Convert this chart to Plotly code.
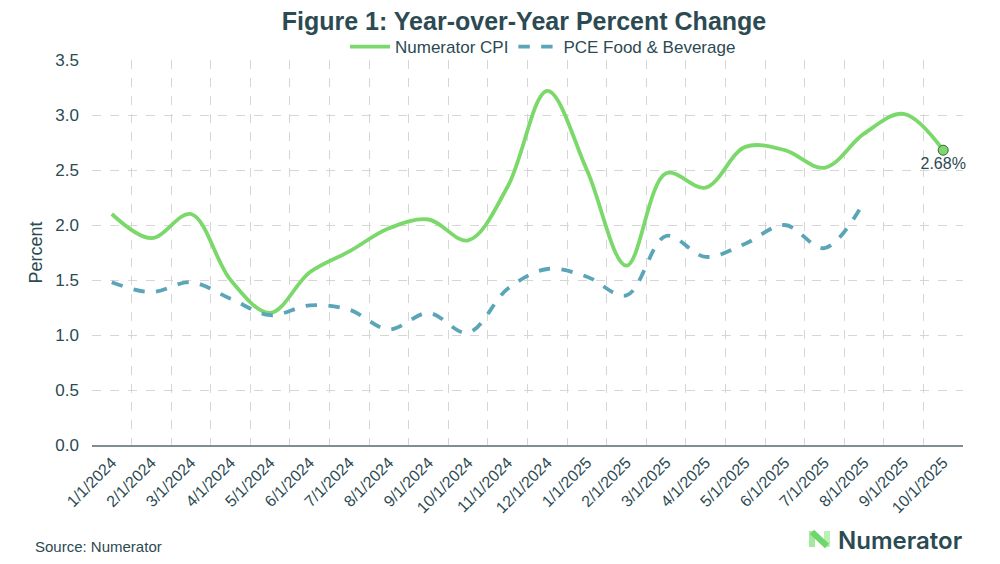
import plotly.graph_objects as go

# Monthly categories
dates = ["1/1/2024", "2/1/2024", "3/1/2024", "4/1/2024", "5/1/2024", "6/1/2024",
         "7/1/2024", "8/1/2024", "9/1/2024", "10/1/2024", "11/1/2024", "12/1/2024",
         "1/1/2025", "2/1/2025", "3/1/2025", "4/1/2025", "5/1/2025", "6/1/2025",
         "7/1/2025", "8/1/2025", "9/1/2025", "10/1/2025"]

# Year-over-year % change
numerator_cpi = [2.10, 1.88, 2.10, 1.50, 1.20, 1.57, 1.76, 1.97, 2.05, 1.86, 2.35, 3.22,
                 2.50, 1.63, 2.47, 2.34, 2.71, 2.68, 2.52, 2.83, 3.01, 2.68]
pce_food_bev = [1.48, 1.39, 1.48, 1.33, 1.18, 1.27, 1.23, 1.05, 1.20, 1.02, 1.42, 1.60,
                1.53, 1.36, 1.90, 1.71, 1.83, 2.00, 1.79, 2.21, None, None]

y_ticks = [0.0, 0.5, 1.0, 1.5, 2.0, 2.5, 3.0, 3.5]

GREEN = "#7bd86a"
BLUE = "#5aa6b8"
SLATE = "#2c4a52"
FONT = "Liberation Sans, Arial, sans-serif"

# page has an 8px body margin, so the figure is drawn 8px in from the top-left
OFF = 8
W, H = 1000 - OFF, 564 - OFF
L, T, R, B = 92 - OFF, 60 - OFF, 37, 119
PW, PH = W - L - R, H - T - B


def px_x(p):
    return (p - OFF - L) / PW


def px_y(p):
    return (H - B - (p - OFF)) / PH


fig = go.Figure()

fig.add_trace(go.Scatter(
    x=dates, y=numerator_cpi, name="Numerator CPI", mode="lines",
    line=dict(color=GREEN, width=3.8, shape="spline", smoothing=1.0),
))
fig.add_trace(go.Scatter(
    x=dates, y=pce_food_bev, name="PCE Food & Beverage", mode="lines",
    line=dict(color=BLUE, width=3.8, dash="dash", shape="spline", smoothing=1.0),
))
# Latest value marker with label
fig.add_trace(go.Scatter(
    x=[dates[-1]], y=[numerator_cpi[-1]], mode="markers+text",
    marker=dict(color=GREEN, size=10, line=dict(color="#3d5e4a", width=1)),
    text=[f"{numerator_cpi[-1]:.2f}%"], textposition="bottom center",
    textfont=dict(size=16, color=SLATE, family=FONT),
    showlegend=False, cliponaxis=False,
))

fig.update_layout(
    width=W, height=H,
    paper_bgcolor="white", plot_bgcolor="white",
    margin=dict(l=L, r=R, t=T, b=B, autoexpand=False),
    font=dict(family=FONT, color=SLATE, size=15),
    title=dict(text="<b>Figure 1: Year-over-Year Percent Change</b>",
               x=(524 - OFF) / W, xanchor="center", y=1 - (21 - OFF) / H, yanchor="middle",
               font=dict(size=25, color=SLATE, family=FONT)),
    legend=dict(orientation="h", x=px_x(543), xanchor="center", y=px_y(47), yanchor="middle",
                font=dict(size=17, color=SLATE), itemwidth=40,
                bgcolor="rgba(0,0,0,0)"),
    showlegend=True,
)

fig.update_xaxes(
    type="category", tickangle=-45, tickson="boundaries",
    showgrid=True, gridcolor="#d6d6d6", griddash="dash", gridwidth=1,
    showline=True, linecolor="#7f8e92", linewidth=2,
    ticks="", tickfont=dict(size=16, color=SLATE),
    range=[-0.5, 21.5],
)
fig.update_yaxes(
    range=[0, 3.5], tickvals=y_ticks, tickformat=".1f",
    showgrid=True, gridcolor="#d6d6d6", griddash="dash", gridwidth=1,
    zeroline=False, tickfont=dict(size=17, color=SLATE), ticklabelstandoff=12,
    title=dict(text="Percent", font=dict(size=18, color=SLATE), standoff=8),
)

# Source note
fig.add_annotation(text="Source: Numerator", xref="paper", yref="paper",
                   x=px_x(33), y=px_y(546), xanchor="left", yanchor="middle",
                   showarrow=False, font=dict(size=15, color=SLATE))

# Logo wordmark
fig.add_annotation(text="Numerator", xref="paper", yref="paper",
                   x=px_x(836), y=px_y(540), xanchor="left", yanchor="middle",
                   showarrow=False,
                   font=dict(size=24, color=SLATE, family="Inter, Lato, sans-serif", weight=600))

# Logo icon: stylised "N"
for x0, y0, x1, y1, c in [(812, 531, 812, 547, "#a6e8a0"),
                          (827, 531, 827, 547, "#b9f0b3"),
                          (812, 532, 827, 546, "#6fd66c")]:
    fig.add_shape(type="line", xref="paper", yref="paper",
                  x0=px_x(x0), y0=px_y(y0), x1=px_x(x1), y1=px_y(y1),
                  line=dict(color=c, width=6))

fig.write_html("out.html")
